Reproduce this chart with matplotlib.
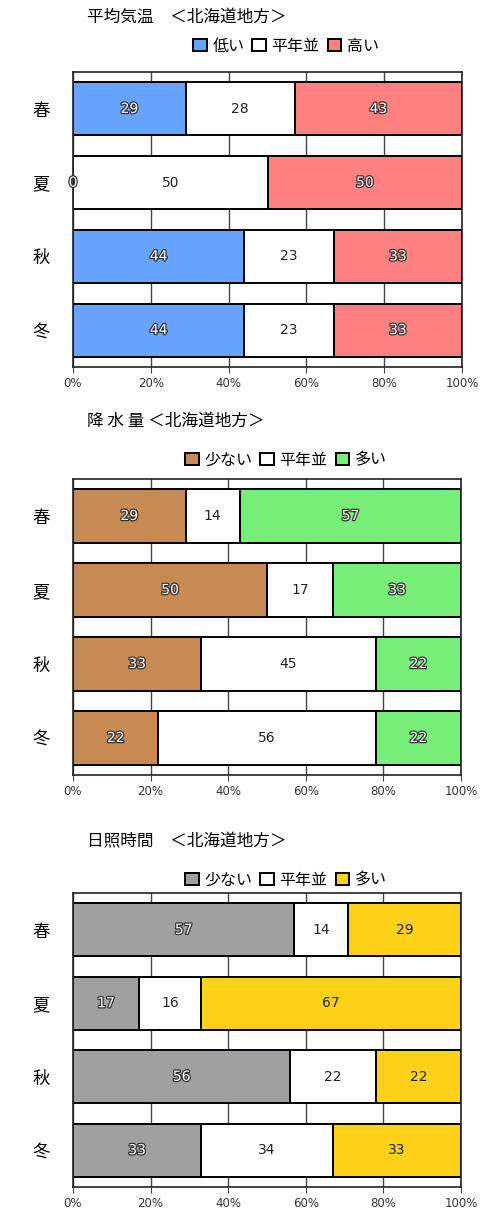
import matplotlib.pyplot as plt
import matplotlib.patheffects as pe
from matplotlib.patches import Patch

plt.rcParams['font.family'] = ['Noto Sans CJK JP', 'DejaVu Sans']

seasons = ['春', '夏', '秋', '冬']

temp_titles = '平均気温　＜北海道地方＞'
temp_labels = ['低い', '平年並', '高い']
temp_low = [29, 0, 44, 44]
temp_normal = [28, 50, 23, 23]
temp_high = [43, 50, 33, 33]

rain_titles = '降 水 量 ＜北海道地方＞'
rain_labels = ['少ない', '平年並', '多い']
rain_low = [29, 50, 33, 22]
rain_normal = [14, 17, 45, 56]
rain_high = [57, 33, 22, 22]

sun_titles = '日照時間　＜北海道地方＞'
sun_labels = ['少ない', '平年並', '多い']
sun_low = [57, 17, 56, 33]
sun_normal = [14, 16, 22, 34]
sun_high = [29, 67, 22, 33]

W, H = 482, 1217
fig = plt.figure(figsize=(W / 100, H / 100), dpi=100)


def px_axes(left, right, top, bottom):
    return fig.add_axes([left / W, 1 - bottom / H, (right - left) / W, (bottom - top) / H])


def draw(ax, title, labels, series, colors, light, title_y, legend_y):
    left = [0, 0, 0, 0]
    ax.set_axisbelow(True)
    ax.grid(axis='x', color='#444444', linewidth=1)
    for vals, col, is_light in zip(series, colors, light):
        ax.barh(range(4), vals, left=left, height=0.72, color=col,
                edgecolor='black', linewidth=1.4)
        for i, v in enumerate(vals):
            x = left[i] + v / 2
            if is_light:
                ax.text(x, i, str(v), ha='center', va='center', fontsize=10,
                        color='#222222', family='DejaVu Sans')
            else:
                ax.text(x, i, str(v), ha='center', va='center', fontsize=10,
                        color='white', family='DejaVu Sans',
                        path_effects=[pe.withStroke(linewidth=1.8, foreground='#333333')])
        left = [a + b for a, b in zip(left, vals)]
    ax.set_xlim(0, 100)
    ax.set_ylim(3.5, -0.5)
    ax.set_yticks(range(4))
    ax.set_yticklabels(seasons, fontsize=12.5)
    ax.tick_params(axis='y', length=0, pad=17)
    ax.set_xticks([0, 20, 40, 60, 80, 100])
    ax.set_xticklabels(['0%', '20%', '40%', '60%', '80%', '100%'], fontsize=8.5,
                       family='DejaVu Sans', color='#333333')
    ax.tick_params(axis='x', length=4, color='#444444')
    for s in ax.spines.values():
        s.set_color('#222222')
        s.set_linewidth(1.2)
    fig.text(87 / W, 1 - title_y / H, title, fontsize=12, va='center', ha='left')
    handles = [Patch(facecolor=c, edgecolor='black', linewidth=1.4) for c in colors]
    fig.legend(handles, labels, loc='center', bbox_to_anchor=(286 / W, 1 - legend_y / H),
               ncol=3, frameon=False, fontsize=11.5, handlelength=0.85, handleheight=0.85,
               handletextpad=0.35, columnspacing=0.5)


ax1 = px_axes(73, 462, 72, 367)
draw(ax1, temp_titles, temp_labels, [temp_low, temp_normal, temp_high],
     ['#66A3FF', 'white', '#FF8080'], [False, True, False], 17, 46)

ax2 = px_axes(73, 461, 479, 775)
draw(ax2, rain_titles, rain_labels, [rain_low, rain_normal, rain_high],
     ['#C68A52', 'white', '#77EE77'], [False, True, False], 421, 460)

ax3 = px_axes(73, 461, 893, 1187)
draw(ax3, sun_titles, sun_labels, [sun_low, sun_normal, sun_high],
     ['#A0A0A0', 'white', '#FFD21A'], [False, True, True], 842, 880)

fig.savefig('out.png', dpi=100, facecolor='white')
